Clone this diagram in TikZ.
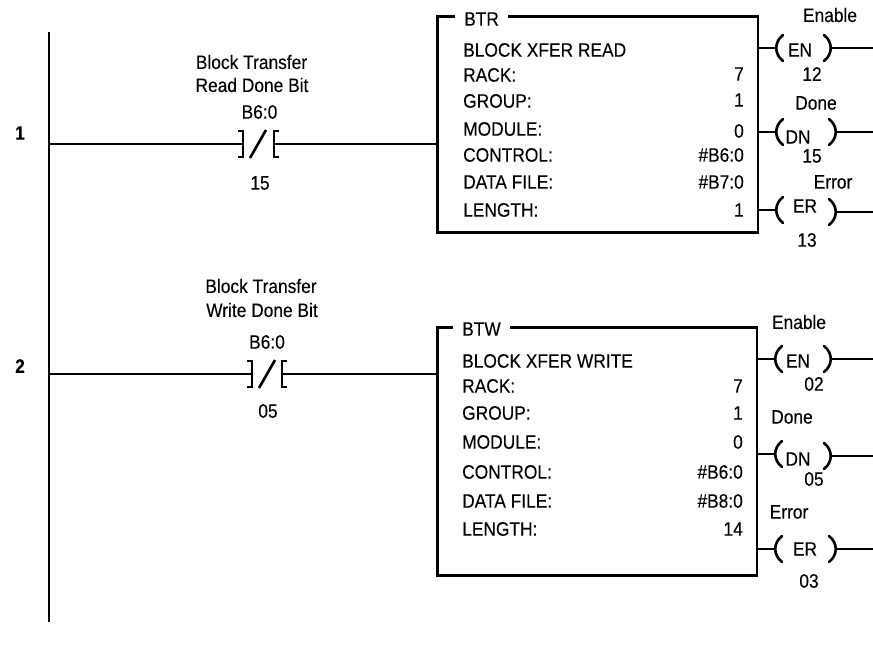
\documentclass[tikz,border=0pt]{standalone}
\usepackage{fontspec}
\setmainfont{Liberation Sans}[FakeStretch=0.89,FakeBold=0.15]
\newcommand{\lab}{\fontsize{19.5}{21}\selectfont}
% name, left x, left y, right x (outer), right y
\newcommand{\coil}[5]{%
  \coordinate (#1L) at (#2,#3);
  \coordinate (#1R) at (#4,#5);
  \draw[wire,line cap=round] (#2+7,#3-13) .. controls (#2-2,#3-6) and (#2-2,#3+6) .. (#2+7,#3+13);
  \draw[wire,line cap=round] (#4-8,#5-13) .. controls (#4+1,#5-6) and (#4+1,#5+6) .. (#4-8,#5+13);
}
% name, left-vertical x, right-vertical x, y of rung, slash bottom x
\newcommand{\contact}[5]{%
  \coordinate (#1L) at (#2,#4);
  \coordinate (#1R) at (#3,#4);
  \draw[wire] (#2-5,#4-13) -- (#2,#4-13) -- (#2,#4+13) -- (#2-5,#4+13);
  \draw[wire] (#3+5,#4-13) -- (#3,#4-13) -- (#3,#4+13) -- (#3+5,#4+13);
  \draw[wire] (#5,#4+14) -- (#5+16,#4-14);
}
\tikzset{
  wire/.style={line width=2.6pt,black},
  txt/.style={inner sep=0pt,font=\lab,text=black},
  lft/.style={txt,anchor=west},
  rgt/.style={txt,anchor=east},
  box/.style={draw=black,line width=2.6pt,anchor=north west,inner sep=0pt},
  hdr/.style={txt,fill=white,inner xsep=9pt,inner ysep=2pt,anchor=west}
}
\begin{document}
\begin{tikzpicture}[x=1pt,y=-1pt]
\useasboundingbox (0,0) rectangle (873,650);
% rail
\coordinate (railT) at (49,32);
\coordinate (railB) at (49,622);
\draw[wire] (railT) -- (railB);
\coordinate (r1) at (49,144);
\coordinate (r2) at (49,374);
\node[txt,font=\lab\bfseries] (n1) at (20,133) {1};
\node[txt,font=\lab\bfseries] (n2) at (20,366) {2};
% blocks
\node[box,minimum width=320.5pt,minimum height=216pt] (b1) at (436,15) {};
\node[box,minimum width=319.5pt,minimum height=248pt] (b2) at (436,326) {};
\node[hdr] (btr) at (455,19) {BTR};
\node[hdr] (btw) at (453,329) {BTW};
% contacts
\contact{c1}{243}{274}{144}{250}
\contact{c2}{252}{282}{374}{259}
\draw[wire] (r1) -- (c1L);
\draw[wire] (c1R) -- (b1.west |- c1R);
\draw[wire] (r2) -- (c2L);
\draw[wire] (c2R) -- (b2.west |- c2R);
% contact labels
\node[txt] (a1) at (251.5,62) {Block Transfer};
\node[txt] (a2) at (252,85) {Read Done Bit};
\node[txt] (a3) at (259.5,112) {B6:0};
\node[txt] (a4) at (260,183) {15};
\node[txt] (d1) at (261,286) {Block Transfer};
\node[txt] (d2) at (262,310) {Write Done Bit};
\node[txt] (d3) at (267,342) {B6:0};
\node[txt] (d4) at (268,411) {05};
% block 1 text
\node[lft] (t10) at (463,50) {BLOCK XFER READ};
\node[lft] (t11) at (463,75) {RACK:};
\node[lft] (t12) at (463,101) {GROUP:};
\node[lft] (t13) at (463,129) {MODULE:};
\node[lft] (t14) at (463,155) {CONTROL:};
\node[lft] (t15) at (463,182) {DATA FILE:};
\node[lft] (t16) at (463,210) {LENGTH:};
\node[rgt] (v11) at (744,74) {7};
\node[rgt] (v12) at (744,100) {1};
\node[rgt] (v13) at (744,131) {0};
\node[rgt] (v14) at (744,155) {\#B6:0};
\node[rgt] (v15) at (744,182) {\#B7:0};
\node[rgt] (v16) at (744,210) {1};
% block 2 text
\node[lft] (t20) at (462,361) {BLOCK XFER WRITE};
\node[lft] (t21) at (462,386) {RACK:};
\node[lft] (t22) at (462,413) {GROUP:};
\node[lft] (t23) at (462,442) {MODULE:};
\node[lft] (t24) at (462,472) {CONTROL:};
\node[lft] (t25) at (462,501) {DATA FILE:};
\node[lft] (t26) at (462,529) {LENGTH:};
\node[rgt] (v21) at (743,386) {7};
\node[rgt] (v22) at (743,413) {1};
\node[rgt] (v23) at (743,442) {0};
\node[rgt] (v24) at (743,472) {\#B6:0};
\node[rgt] (v25) at (743,501) {\#B8:0};
\node[rgt] (v26) at (743,529) {14};
% free ends
\coordinate (e1) at (873,48);
\coordinate (e2) at (873,132);
\coordinate (e3) at (873,212);
\coordinate (e4) at (873,359);
\coordinate (e5) at (873,456);
\coordinate (e6) at (873,549);
% coils block 1
\coil{q1}{776}{48}{832}{48}
\coil{q2}{776}{132}{837}{132}
\coil{q3}{776}{210}{837}{212}
\draw[wire] (b1.east |- q1L) -- (q1L);
\draw[wire] (q1R) -- (e1);
\draw[wire] (b1.east |- q2L) -- (q2L);
\draw[wire] (q2R) -- (e2);
\draw[wire] (b1.east |- q3L) -- (q3L);
\draw[wire] (q3R) -- (e3);
\node[txt] (x1) at (800,50) {EN};
\node[txt] (x2) at (798,137) {DN};
\node[txt] (x3) at (805,206) {ER};
\node[txt] (l1) at (830,15) {Enable};
\node[txt] (l2) at (816,103) {Done};
\node[txt] (l3) at (833,182) {Error};
\node[txt] (m1) at (812,74) {12};
\node[txt] (m2) at (812,156) {15};
\node[txt] (m3) at (807,240) {13};
% coils block 2
\coil{q4}{775}{359}{832}{359}
\coil{q5}{775}{454}{832}{456}
\coil{q6}{775}{549}{837}{549}
\draw[wire] (b2.east |- q4L) -- (q4L);
\draw[wire] (q4R) -- (e4);
\draw[wire] (b2.east |- q5L) -- (q5L);
\draw[wire] (q5R) -- (e5);
\draw[wire] (b2.east |- q6L) -- (q6L);
\draw[wire] (q6R) -- (e6);
\node[txt] (x4) at (798,361) {EN};
\node[txt] (x5) at (798,459) {DN};
\node[txt] (x6) at (805,549) {ER};
\node[txt] (l4) at (799,322) {Enable};
\node[txt] (l5) at (792,417) {Done};
\node[txt] (l6) at (789,512) {Error};
\node[txt] (m4) at (814,384) {02};
\node[txt] (m5) at (814,479) {05};
\node[txt] (m6) at (809,581) {03};
\end{tikzpicture}
\end{document}
